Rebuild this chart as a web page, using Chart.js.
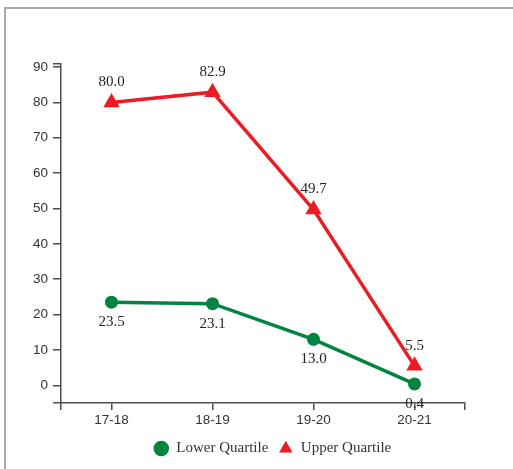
<!doctype html>
<html>
<head>
<meta charset="UTF-8">
<title>Lower / Upper Quartile</title>
<style>
body{margin:0;background:#fff;}
#frame{position:absolute;left:4px;top:7px;right:0;bottom:0;border-top:2px solid #a8a8a8;border-left:2px solid #a8a8a8;}
#box{position:absolute;left:0;top:0;width:513px;height:469px;}
</style>
</head>
<body>
<div id="frame"></div>
<div id="box"><canvas id="myChart" width="513" height="469"></canvas></div>
<script src="https://cdn.jsdelivr.net/npm/chart.js@4/dist/chart.umd.min.js"></script>
<script>
// data
var years = ['17-18', '18-19', '19-20', '20-21'];
var lowerQuartile = [23.5, 23.1, 13.0, 0.4];
var upperQuartile = [80.0, 82.9, 49.7, 5.5];
var yTickValues = [0, 10, 20, 30, 40, 50, 60, 70, 80, 90];
var yMin = -5, yMax = 91;

var axisColor = '#4d4d4d';
var textColor = '#231f20';

function toPoints(vals){
	return vals.map(function(v, i){ return {x: i, y: v}; });
}

// value labels above / below the markers
var valueLabels = {
	id: 'valueLabels',
	afterDatasetsDraw: function(chart){
		var ctx = chart.ctx;
		ctx.save();
		ctx.font = '15px "Liberation Serif", serif';
		ctx.fillStyle = textColor;
		ctx.textAlign = 'center';
		ctx.textBaseline = 'middle';
		chart.data.datasets.forEach(function(ds, i){
			var meta = chart.getDatasetMeta(i);
			meta.data.forEach(function(pt, j){
				ctx.fillText(ds.data[j].y.toFixed(1), pt.x, pt.y + ds.labelShift);
			});
		});
		ctx.restore();
	}
};

// move the legend a bit to the right, like the original
var legendShift = {
	id: 'legendShift',
	afterLayout: function(chart){
		chart.legend.left += 40;
		chart.legend.right += 40;
	}
};

var ctx = document.getElementById('myChart');
var myChart = new Chart(ctx, {
	type: 'line',
	data: {
		datasets: [
			{
				label: 'Lower Quartile',
				data: toPoints(lowerQuartile),
				borderColor: '#00843f',
				backgroundColor: '#00843f',
				borderWidth: 3.5,
				pointStyle: 'circle',
				pointRadius: 6.5,
				pointBorderWidth: 0,
				labelShift: 20,
				tension: 0
			},
			{
				label: 'Upper Quartile',
				data: toPoints(upperQuartile),
				borderColor: '#ed1c24',
				backgroundColor: '#ed1c24',
				borderWidth: 3.5,
				pointStyle: 'triangle',
				pointRadius: 9.5,
				pointBorderWidth: 0,
				labelShift: -20,
				tension: 0
			}
		]
	},
	options: {
		responsive: false,
		animation: false,
		layout: {padding: {left: 0, right: 48, top: 63.5, bottom: 3}},
		scales: {
			x: {
				type: 'linear',
				min: -0.5,
				max: years.length - 0.5,
				afterBuildTicks: function(axis){
					var t = [{value: -0.5}];
					years.forEach(function(y, i){ t.push({value: i}); });
					t.push({value: years.length - 0.5});
					axis.ticks = t;
				},
				afterFit: function(axis){ axis.height = 28; },
				ticks: {
					autoSkip: false,
					maxRotation: 0,
					padding: 2,
					color: '#333',
					font: {family: '"Liberation Sans", Arial, sans-serif', size: 13.5},
					callback: function(v){ return years[v] !== undefined ? years[v] : ''; }
				},
				grid: {drawOnChartArea: false, drawTicks: true, tickLength: 7, color: axisColor, lineWidth: 1.5},
				border: {display: true, color: axisColor, width: 1.5}
			},
			y: {
				min: yMin,
				max: yMax,
				afterBuildTicks: function(axis){
					var t = [{value: yMin}];
					yTickValues.forEach(function(v){ t.push({value: v}); });
					t.push({value: yMax});
					axis.ticks = t;
				},
				afterFit: function(axis){ axis.width = 61; },
				ticks: {
					autoSkip: false,
					padding: 5,
					color: '#333',
					font: {family: '"Liberation Sans", Arial, sans-serif', size: 13.5},
					callback: function(v){ return yTickValues.indexOf(v) >= 0 ? v : ''; }
				},
				grid: {drawOnChartArea: false, drawTicks: true, tickLength: 8, color: axisColor, lineWidth: 1.5},
				border: {display: true, color: axisColor, width: 1.5}
			}
		},
		plugins: {
			tooltip: {enabled: false},
			legend: {
				position: 'bottom',
				labels: {
					usePointStyle: true,
					boxHeight: 11,
					padding: 10,
					color: '#333',
					font: {family: '"Liberation Serif", serif', size: 15}
				}
			}
		}
	},
	plugins: [valueLabels, legendShift]
});
</script>
</body>
</html>
